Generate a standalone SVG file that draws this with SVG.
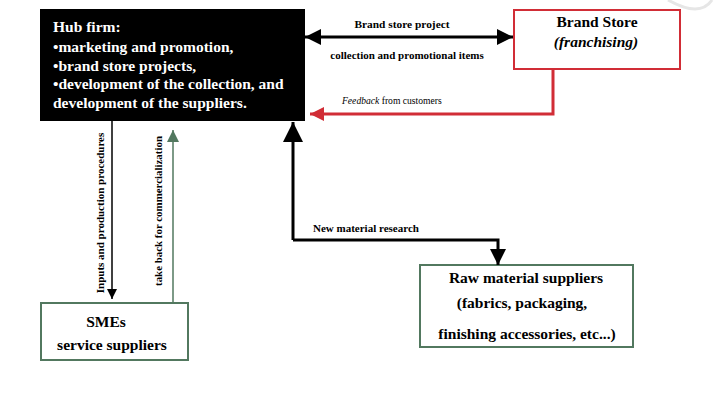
<svg xmlns="http://www.w3.org/2000/svg" width="720" height="415" viewBox="0 0 720 415">
<style>
text{font-family:"Liberation Serif","Times New Roman",serif;font-weight:bold;fill:#000}
.hub{fill:#fff;font-size:15.5px}
.lbl{font-size:11px}
.box{font-size:15.5px}
.fb{font-size:9.6px;font-weight:normal}
.red{stroke:#d12d36}
.grn{stroke:#52785f}
</style>
<defs>
<marker id="ab" viewBox="0 0 10 10" refX="10" refY="5" markerWidth="10" markerHeight="10" markerUnits="userSpaceOnUse" orient="auto-start-reverse"><path d="M0,0 L10,5 L0,10 z" fill="#000"/></marker>
<marker id="abig" viewBox="0 0 10 10" refX="10" refY="5" markerWidth="25" markerHeight="20" markerUnits="userSpaceOnUse" orient="auto"><path d="M0,0 L10,5 L0,10 z" fill="#000"/></marker>
<marker id="amed" viewBox="0 0 10 10" refX="10" refY="5" markerWidth="16" markerHeight="16" markerUnits="userSpaceOnUse" orient="auto-start-reverse"><path d="M0,0 L10,5 L0,10 z" fill="#000"/></marker>
<marker id="ared" viewBox="0 0 10 10" refX="10" refY="5" markerWidth="16" markerHeight="14" markerUnits="userSpaceOnUse" orient="auto"><path d="M0,0 L10,5 L0,10 z" fill="#d12d36"/></marker>
<marker id="agrn" viewBox="0 0 10 10" refX="10" refY="5" markerWidth="12" markerHeight="12" markerUnits="userSpaceOnUse" orient="auto"><path d="M0,0 L10,5 L0,10 z" fill="#52785f"/></marker>
</defs>
<rect width="720" height="415" fill="#fff"/>
<path d="M668,0 Q700,18 712,0" fill="none" stroke="#e6e6e6" stroke-width="3"/>
<g id="hub">
<rect x="40" y="9" width="265" height="112" fill="#000"/>
<text class="hub" x="53" y="32">Hub firm:</text>
<text class="hub" x="53" y="52">•marketing and promotion,</text>
<text class="hub" x="53" y="71">•brand store projects,</text>
<text class="hub" x="53" y="89">•development of the collection, and</text>
<text class="hub" x="53" y="108">development of the suppliers.</text>
</g>
<g id="brandstore">
<rect x="514" y="10" width="166" height="59" fill="#fff" stroke="#d12d36" stroke-width="2"/>
<text class="box" x="597" y="27" text-anchor="middle">Brand Store</text>
<text class="box" x="596" y="47" text-anchor="middle" style="font-style:italic">(franchising)</text>
</g>
<g id="raw">
<rect x="420" y="265" width="213" height="82" fill="#fff" stroke="#52785f" stroke-width="2"/>
<text class="box" x="526" y="283" text-anchor="middle">Raw material suppliers</text>
<text class="box" x="522" y="308" text-anchor="middle">(fabrics, packaging,</text>
<text class="box" x="527" y="339" text-anchor="middle">finishing accessories, etc...)</text>
</g>
<g id="smes">
<rect x="41" y="303" width="147" height="57" fill="#fff" stroke="#52785f" stroke-width="2"/>
<text class="box" x="106" y="327" text-anchor="middle">SMEs</text>
<text class="box" x="112" y="350" text-anchor="middle">service suppliers</text>
</g>
<g id="connectors" fill="none">
<line x1="305" y1="37" x2="513" y2="37" stroke="#000" stroke-width="3" marker-start="url(#amed)" marker-end="url(#amed)"/>
<polyline points="553,69 553,114 310,114" class="red" stroke-width="3" marker-end="url(#ared)" fill="none"/>
<polyline points="293,240 293,122" stroke="#000" stroke-width="3" marker-end="url(#abig)"/>
<polyline points="293,240 498,240 498,265" stroke="#000" stroke-width="3" marker-end="url(#amed)"/>
<line x1="112" y1="121" x2="112" y2="299" stroke="#000" stroke-width="1.5" marker-end="url(#ab)"/>
<line x1="173" y1="302" x2="173" y2="130" class="grn" stroke-width="1.5" marker-end="url(#agrn)"/>
</g>
<g id="labels">
<text class="lbl" x="402" y="28" text-anchor="middle" style="font-size:11.4px">Brand store project</text>
<text class="lbl" x="407" y="59" text-anchor="middle">collection and promotional items</text>
<text class="fb" x="342" y="104"><tspan style="font-style:italic">Feedback</tspan>  from  customers</text>
<text class="lbl" x="313" y="232">New material research</text>
<text class="lbl" transform="translate(104,213) rotate(-90)" text-anchor="middle" style="font-size:11px">Inputs and production procedures</text>
<text class="lbl" transform="translate(162,211) rotate(-90)" text-anchor="middle" style="font-size:10.9px">take back for commercialization</text>
</g>
</svg>
